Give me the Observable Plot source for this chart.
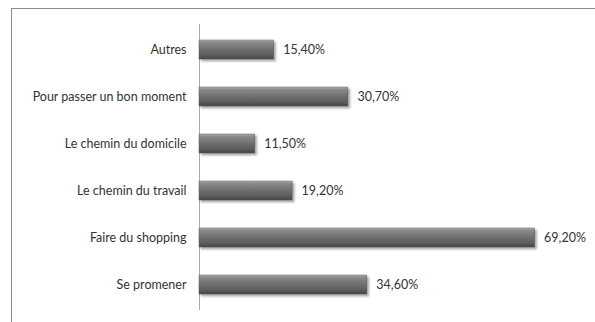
<!DOCTYPE html>
<html>
<head>
<meta charset="utf-8">
<script src="https://cdn.jsdelivr.net/npm/d3@7"></script>
<script src="https://cdn.jsdelivr.net/npm/@observablehq/plot@0.6"></script>
<style>
  html, body { margin: 0; padding: 0; background: #fff; }
  #wrap { position: relative; width: 595px; height: 322px; overflow: hidden; }
  #frame { position: absolute; left: 11px; top: 8px; width: 600px; height: 330px;
           border-top: 1px solid #8c8c8c; border-left: 1px solid #8c8c8c; }
  #chart { position: absolute; left: 0; top: 0; }
</style>
</head>
<body>
<div id="wrap"><div id="frame"></div><div id="chart"></div></div>
<script>
const categories = ["Autres", "Pour passer un bon moment", "Le chemin du domicile", "Le chemin du travail", "Faire du shopping", "Se promener"];
const values = [15.4, 30.7, 11.5, 19.2, 69.2, 34.6];
const valueLabels = ["15,40%", "30,70%", "11,50%", "19,20%", "69,20%", "34,60%"];

const data = categories.map((c, i) => ({category: c, value: values[i], label: valueLabels[i]}));

const chart = Plot.plot({
  width: 595,
  height: 322,
  marginLeft: 199,
  marginRight: 8,
  marginTop: 24,
  marginBottom: 12,
  style: {fontFamily: "Lato, sans-serif", fontSize: "12.5px", color: "#333", background: "transparent"},
  x: {domain: [0, 80], axis: null},
  y: {domain: categories, paddingInner: 0.6, paddingOuter: 0.3, label: null, tickSize: 0, tickPadding: 13},
  marks: [
    Plot.ruleX([0], {stroke: "#aaaaaa", strokeWidth: 1}),
    Plot.barX(data, {x: "value", y: "category", fill: "url(#barGrad)", stroke: "#5a5a5a", strokeWidth: 0.5}),
    Plot.text(data, {x: "value", y: "category", text: "label", dx: 9, textAnchor: "start", fontSize: 12.5, fill: "#333"})
  ]
});

const svg = d3.select(chart);
const defs = svg.insert("defs", ":first-child");
const g = defs.append("linearGradient").attr("id", "barGrad").attr("x1", 0).attr("y1", 0).attr("x2", 0).attr("y2", 1);
[["0%", "#b4b4b4"], ["12%", "#8a8a8a"], ["45%", "#727272"], ["80%", "#5c5c5c"], ["100%", "#444444"]]
  .forEach(([o, c]) => g.append("stop").attr("offset", o).attr("stop-color", c));
svg.selectAll("g[aria-label='bar'] rect").attr("style", "filter: drop-shadow(2px 2px 1.2px rgba(0,0,0,0.35))");

document.getElementById("chart").appendChild(chart);
</script>
</body>
</html>
